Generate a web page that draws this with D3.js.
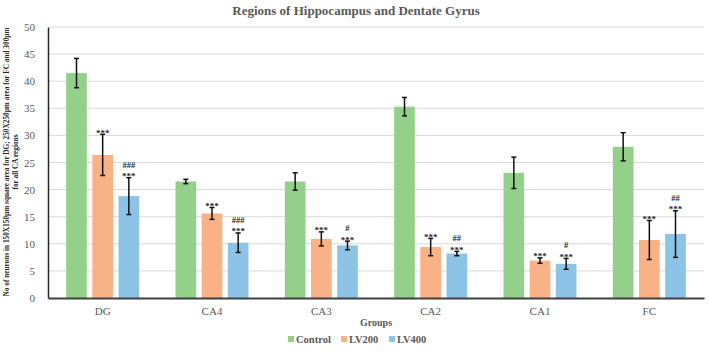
<!DOCTYPE html>
<html><head><meta charset="utf-8">
<script src="https://cdn.jsdelivr.net/npm/d3@7"></script>
<style>body{margin:0;background:#fff}svg{display:block}svg text{font-family:"Liberation Serif","Times New Roman","DejaVu Serif",serif}</style>
</head><body><svg id="c" width="709" height="356"></svg>
<script>
const categories = ["DG","CA4","CA3","CA2","CA1","FC"];
const seriesNames = ["Control","LV200","LV400"];
const control = [41.5,21.5,21.5,35.3,23.1,27.9];
const controlErr = [2.7,0.4,1.6,1.7,2.9,2.6];
const lv200 = [26.4,15.6,10.9,9.4,6.9,10.7];
const lv200Err = [3.8,1.1,1.3,1.6,0.5,3.6];
const lv400 = [18.8,10.2,9.7,8.2,6.3,11.8];
const lv400Err = [3.4,1.8,0.8,0.4,1.0,4.3];
const lv200Marks = [["***"],["***"],["***"],["***"],["***"],["***"]];
const lv400Marks = [["***","###"],["***","###"],["***","#"],["***","##"],["***","#"],["***","##"]];
const yTicks = [0,5,10,15,20,25,30,35,40,45,50];
const colors = ["#93d08a","#f9b186","#8cc3e6"];

const FONT = "'Liberation Serif', 'Times New Roman', 'DejaVu Serif', serif";
const svg = d3.select("#c");
const m = {l:48, r:5, t:27, b:58};
const W = 709, H = 356;
const x0 = d3.scaleBand().domain(categories).range([m.l, W-m.r]).paddingInner(0).paddingOuter(0);
const x1 = d3.scaleBand().domain(seriesNames).range([x0.bandwidth()/2-36.5, x0.bandwidth()/2+36.5]).paddingInner(0.21);
const y = d3.scaleLinear().domain([0,50]).range([H-m.b, m.t]);

// gridlines
svg.append("g").selectAll("line").data(yTicks.filter(d=>d>0)).join("line")
  .attr("x1", m.l).attr("x2", W-m.r).attr("y1", d=>y(d)).attr("y2", d=>y(d))
  .attr("stroke", "#d9d9d9").attr("stroke-width", 1);

// y axis
const ya = d3.axisLeft(y).tickValues(yTicks).tickSize(0).tickPadding(13);
const yg = svg.append("g").attr("transform", `translate(${m.l},0)`).call(ya);
yg.attr("font-family", FONT);
yg.select(".domain").attr("stroke", "#262626").attr("stroke-width", 1.5);
yg.selectAll("text").style("font-family", FONT).attr("font-size", 11).attr("fill", "#595959");

const series = [
  {name:"Control", vals:control, err:controlErr, marks:null},
  {name:"LV200", vals:lv200, err:lv200Err, marks:lv200Marks},
  {name:"LV400", vals:lv400, err:lv400Err, marks:lv400Marks}
];

series.forEach((s,si)=>{
  const g = svg.append("g");
  categories.forEach((c,i)=>{
    const bx = x0(c) + x1(s.name);
    const bw = x1.bandwidth();
    g.append("rect").attr("x", bx).attr("width", bw).attr("y", y(s.vals[i])).attr("height", y(0)-y(s.vals[i])).attr("fill", colors[si]);
    const cx = bx + bw/2;
    const hi = s.vals[i]+s.err[i], lo = s.vals[i]-s.err[i];
    g.append("line").attr("x1", cx).attr("x2", cx).attr("y1", y(hi)).attr("y2", y(lo)).attr("stroke", "#111").attr("stroke-width", 1.5);
    [hi,lo].forEach(v=>g.append("line").attr("x1", cx-2.5).attr("x2", cx+2.5).attr("y1", y(v)).attr("y2", y(v)).attr("stroke", "#111").attr("stroke-width", 1.5));
    if (s.marks) {
      s.marks[i].forEach((t,k)=>{
        g.append("text").attr("x", cx).attr("y", y(hi) - 1 - k*9 + (t.startsWith("*")?2.5:0))
          .attr("text-anchor", "middle").style("font-family", FONT).attr("font-weight", "bold")
          .attr("font-size", t.startsWith("*")?9:8.5).attr("fill", "#262626").text(t);
      });
    }
  });
});

// x axis
const xa = d3.axisBottom(x0).tickSize(0).tickPadding(9);
const xg = svg.append("g").attr("transform", `translate(0,${y(0)})`).call(xa);
xg.select(".domain").attr("stroke", "#404040").attr("stroke-width", 2.2);
xg.selectAll("text").style("font-family", FONT).attr("font-size", 11).attr("fill", "#595959");

// title
svg.append("text").attr("x", 356).attr("y", 15).attr("text-anchor", "middle")
  .style("font-family", FONT).attr("font-weight", "bold").attr("font-size", 13).attr("fill", "#595959")
  .text("Regions of Hippocampus and Dentate Gyrus");

// x title
svg.append("text").attr("x", 376).attr("y", 326).attr("text-anchor", "middle")
  .style("font-family", FONT).attr("font-weight", "bold").attr("font-size", 10).attr("fill", "#595959")
  .text("Groups");

// y title
const yt = svg.append("text").attr("transform", "translate(9,162) rotate(-90)").attr("text-anchor", "middle")
  .style("font-family", FONT).attr("font-weight", "bold").attr("font-size", 7.3).attr("fill", "#262626");
yt.append("tspan").attr("x", 0).attr("dy", 0).text("No of neurons in 150X150μm square area for DG; 250X250μm  area for FC and 300μm");
yt.append("tspan").attr("x", 0).attr("dy", 9).text("for  all CA regions");

// legend
const legX = [288, 341, 389];
const lg = svg.append("g");
seriesNames.forEach((n,i)=>{
  lg.append("rect").attr("x", legX[i]).attr("y", 336).attr("width", 6).attr("height", 6).attr("fill", colors[i]);
  lg.append("text").attr("x", legX[i]+8).attr("y", 343).style("font-family", FONT).attr("font-weight", "bold")
    .attr("font-size", 10.5).attr("fill", "#595959").text(n);
});
</script></body></html>
